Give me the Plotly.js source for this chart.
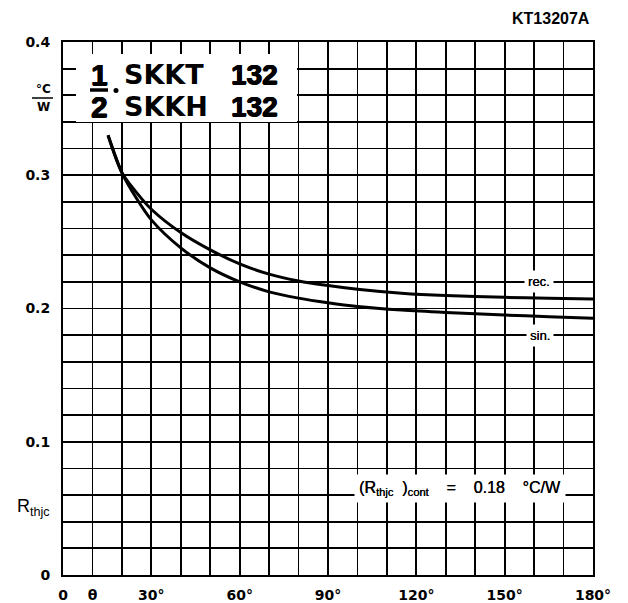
<!DOCTYPE html>
<html><head><meta charset="utf-8">
<script src="https://cdn.plot.ly/plotly-3.0.1.min.js"></script>
<style>html,body{margin:0;padding:0;background:#fff}</style>
</head><body><div id="chart" style="width:628px;height:603px"></div>
<script>
// ---- data ----
const recAngle = [15.3, 20, 25, 30, 40, 50, 60, 70, 80, 90, 100, 115, 130, 150, 165, 180];
const recRth   = [0.330, 0.302, 0.287, 0.2745, 0.257, 0.2440, 0.2335, 0.2258, 0.2206, 0.2172, 0.2145, 0.2115, 0.2097, 0.2084, 0.2076, 0.2071];
const sinAngle = [15.3, 20, 25, 30, 40, 50, 60, 70, 80, 90, 100, 115, 130, 150, 165, 180];
const sinRth   = [0.330, 0.302, 0.2825, 0.2665, 0.2455, 0.2305, 0.2200, 0.2125, 0.2078, 0.2043, 0.2015, 0.1988, 0.1970, 0.1951, 0.1938, 0.1926];
const xTickVals = [0,10,20,30,40,50,60,70,80,90,100,110,120,130,140,150,160,170,180];
const xTickText = ['0','θ','','30°','','','60°','','','90°','','','120°','','','150°','','','180°'];
const yTickVals = [0,0.02,0.04,0.06,0.08,0.1,0.12,0.14,0.16,0.18,0.2,0.22,0.24,0.26,0.28,0.3,0.32,0.34,0.36,0.38,0.4];
const yTickText = ['0','','','','','0.1','','','','','0.2','','','','','0.3','','','','','0.4'];
const seriesLabels = ['rec.', 'sin.'];
const contValue = 0.18;

// ---- layout helpers (pixel -> paper) ----
const L = 63, T = 42, W = 530, H = 533;
const px = x => (x - L) / W;
const py = y => (T + H - y) / H;

const dv = 'DejaVu Sans, Arial, sans-serif';
const lib = 'Liberation Sans, Arial, sans-serif';
const heavy = '0.6px 0 0 #000, -0.6px 0 0 #000, 0 0.5px 0 #000';
const sp = n => '\u00A0'.repeat(n);

const traces = [
  {x: recAngle, y: recRth, mode: 'lines', line: {color: '#000', width: 3, shape: 'spline', smoothing: 0.8}, name: 'rec', hoverinfo: 'skip'},
  {x: sinAngle, y: sinRth, mode: 'lines', line: {color: '#000', width: 3, shape: 'spline', smoothing: 0.8}, name: 'sin', hoverinfo: 'skip'}
];

function ann(text, x, y, font, opts) {
  return Object.assign({text: text, xref: 'paper', yref: 'paper', x: px(x), y: py(y),
    showarrow: false, xanchor: 'center', yanchor: 'middle',
    font: Object.assign({family: lib, size: 14, color: '#000', weight: 'bold'}, font)}, opts || {});
}

const annotations = [
  ann('KT13207A', 551, 18, {size: 16}),
  ann('1', 99, 75, {size: 30, shadow: heavy}),
  ann('2', 99, 106, {size: 30, shadow: heavy}),
  ann('SKKT', 122, 75, {family: dv, size: 27}, {xanchor: 'left'}),
  ann('132', 280, 75, {size: 28, shadow: heavy}, {xanchor: 'right'}),
  ann('SKKH', 122, 106, {family: dv, size: 27}, {xanchor: 'left'}),
  ann('132', 280, 106, {size: 28, shadow: heavy}, {xanchor: 'right'}),
  ann('°C', 43, 89, {family: dv, size: 12}),
  ann('W', 43, 107, {family: dv, size: 12}),
  ann('R<sub>thjc</sub>', 33, 507, {size: 18, weight: 'normal'}),
  {text: seriesLabels[0], xref: 'paper', yref: 'y', x: px(539), y: 0.22, showarrow: false,
   xanchor: 'center', yanchor: 'middle', bgcolor: '#fff', borderpad: 3,
   font: {family: lib, size: 13, color: '#000', shadow: '0.3px 0 0 #000'}},
  {text: seriesLabels[1], xref: 'paper', yref: 'y', x: px(540), y: 0.18, showarrow: false,
   xanchor: 'center', yanchor: 'middle', bgcolor: '#fff', borderpad: 3,
   font: {family: lib, size: 13, color: '#000', shadow: '0.3px 0 0 #000'}},
  {text: '(R<sub>thjc</sub>' + sp(2) + ')<sub>cont</sub>' + sp(4) + '=' + sp(4) + contValue.toFixed(2) + sp(4) + '°C/W',
   xref: 'paper', yref: 'paper', x: px(460), y: py(488), showarrow: false, xanchor: 'center', yanchor: 'middle',
   bgcolor: '#fff', borderpad: 4, font: {family: lib, size: 16, color: '#000', shadow: '0.3px 0 0 #000'}}
];

const shapes = [
  {type: 'rect', xref: 'paper', yref: 'paper', x0: px(76), x1: px(297), y0: py(122), y1: py(54),
   fillcolor: '#fff', line: {width: 0}, layer: 'above'},
  {type: 'line', xref: 'paper', yref: 'paper', x0: px(90), x1: px(108), y0: py(90), y1: py(90),
   line: {color: '#000', width: 3.5}, layer: 'above'},
  {type: 'circle', xref: 'paper', yref: 'paper', x0: px(113.5), x1: px(118.5), y0: py(93), y1: py(88),
   fillcolor: '#000', line: {width: 0}, layer: 'above'},
  {type: 'line', xref: 'paper', yref: 'paper', x0: px(32), x1: px(53), y0: py(98), y1: py(98),
   line: {color: '#000', width: 1.5}, layer: 'above'}
];

const layout = {
  width: 628, height: 603,
  margin: {l: L, r: 628 - L - W, t: T, b: 603 - T - H, pad: 0},
  paper_bgcolor: '#fff', plot_bgcolor: '#fff',
  showlegend: false,
  xaxis: {range: [0, 180], tickmode: 'array', tickvals: xTickVals, ticktext: xTickText,
    showgrid: true, gridcolor: '#000', gridwidth: 1.7, zeroline: false,
    showline: true, linecolor: '#000', linewidth: 2, mirror: true, ticks: '',
    ticklabelstandoff: 6,
    tickfont: {family: dv, size: 14, color: '#000', weight: 'bold'}, fixedrange: true},
  yaxis: {range: [0, 0.4], tickmode: 'array', tickvals: yTickVals, ticktext: yTickText,
    showgrid: true, gridcolor: '#000', gridwidth: 1.7, zeroline: false,
    showline: true, linecolor: '#000', linewidth: 2, mirror: true, ticks: '',
    ticklabelstandoff: 8,
    tickfont: {family: dv, size: 14, color: '#000', weight: 'bold'}, fixedrange: true},
  annotations: annotations,
  shapes: shapes
};

Plotly.newPlot('chart', traces, layout, {displayModeBar: false, staticPlot: true});
</script>
</body></html>
